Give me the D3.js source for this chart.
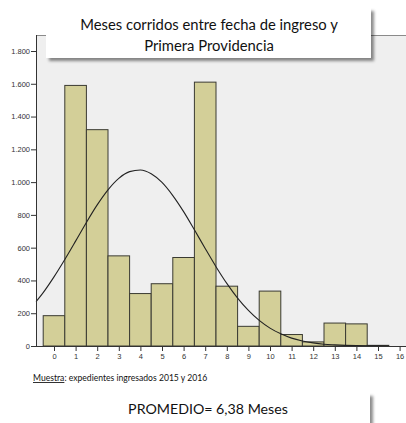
<!DOCTYPE html>
<html><head><meta charset="utf-8">
<script src="https://cdn.jsdelivr.net/npm/d3@7"></script>
<style>
body{margin:0;background:#fff;}
svg{display:block;}
</style></head>
<body>
<svg id="c" width="406" height="423"></svg>
<script>
const categories = [0,1,2,3,4,5,6,7,8,9,10,11,12,13,14,15];
const counts = [185,1590,1320,550,320,380,540,1610,365,120,335,70,25,140,135,4];
const xTicks = [0,1,2,3,4,5,6,7,8,9,10,11,12,13,14,15,16];
const yTicks = [0,200,400,600,800,1000,1200,1400,1600,1800];
const curveX = [-0.83,-0.5,0,0.5,1,1.5,2,2.5,3,3.5,4,4.5,5,5.5,6,6.5,7,7.5,8,8.5,9,9.5,10,10.5,11,11.5,12,12.5,13,13.5,14,14.5,15,15.5];
const curveY = [271,326,422,528,640,754,861,953,1023,1064,1074,1051,998,918,820,709,595,484,382,292,217,156,109,74,48,31,19,11,7,4,2,1,0.5,0.2];
const titleLines = ["Meses corridos entre fecha de ingreso y","Primera Providencia"];
const noteLabel = "Muestra";
const noteText = ": expedientes ingresados 2015 y 2016";
const avgText = "PROMEDIO= 6,38 Meses";

const svg = d3.select("#c");
const x = d3.scaleLinear().domain([0,16]).range([54,399.6]);
const y = d3.scaleLinear().domain([0,1800]).range([346,51]);
const plotL = 36, plotT = 35, plotR = 406, plotB = 346;
const fmt = v => d3.format(",")(v).replace(/,/g,".");

const defs = svg.append("defs");
const f = defs.append("filter").attr("id","sh").attr("x","-5%").attr("y","-20%").attr("width","115%").attr("height","160%");
f.append("feDropShadow").attr("dx",3).attr("dy",3).attr("stdDeviation",1.6).attr("flood-color","#000").attr("flood-opacity",0.45);

// plot background
svg.append("rect").attr("x",plotL).attr("y",plotT).attr("width",plotR-plotL).attr("height",plotB-plotT).attr("fill","#efefef");
svg.append("line").attr("x1",plotL).attr("x2",plotR).attr("y1",plotT+0.5).attr("y2",plotT+0.5).attr("stroke","#8a8a8a").attr("stroke-width",1);

// bars
const bw = x(1)-x(0);
svg.append("g").selectAll("rect").data(categories).join("rect")
  .attr("x",(d)=>x(d-0.5))
  .attr("y",(d,i)=>y(counts[i]))
  .attr("width",bw)
  .attr("height",(d,i)=>y(0)-y(counts[i]))
  .attr("fill","#d3cf98")
  .attr("stroke","#3a3a32")
  .attr("stroke-width",1);

// curve
const line = d3.line().x((d,i)=>x(curveX[i])).y(d=>y(d)).curve(d3.curveMonotoneX);
svg.append("path").datum(curveY).attr("d",line).attr("fill","none").attr("stroke","#222").attr("stroke-width",1.1);

// axes
const yAxis = d3.axisLeft(y).tickValues(yTicks).tickFormat(fmt).tickSize(5).tickPadding(1);
const gy = svg.append("g").attr("transform",`translate(${plotL},0)`).call(yAxis);
gy.select(".domain").attr("d",`M0.5,${plotT}V${plotB}`).attr("stroke","#333");
gy.selectAll(".tick line").attr("stroke","#333");
gy.selectAll("text").attr("font-family","Liberation Sans, Arial, sans-serif").attr("font-size",7.5).attr("fill","#333");

const xAxis = d3.axisBottom(x).tickValues(xTicks).tickSize(5).tickPadding(3);
const gx = svg.append("g").attr("transform",`translate(0,${plotB})`).call(xAxis);
gx.select(".domain").attr("d",`M${plotL},0.5H${plotR}`).attr("stroke","#333");
gx.selectAll(".tick line").attr("stroke","#333");
gx.selectAll("text").attr("font-family","Liberation Sans, Arial, sans-serif").attr("font-size",7.5).attr("fill","#333");

// title box
svg.append("rect").attr("x",46).attr("y",8).attr("width",325).attr("height",50).attr("fill","#fff").attr("filter","url(#sh)");
svg.append("text").attr("x",209).attr("y",30).attr("text-anchor","middle")
  .attr("font-family","Lato, 'Open Sans', sans-serif").attr("font-size",14.8).attr("fill","#111").text(titleLines[0]);
svg.append("text").attr("x",209).attr("y",51).attr("text-anchor","middle")
  .attr("font-family","Lato, 'Open Sans', sans-serif").attr("font-size",14.8).attr("fill","#111").text(titleLines[1]);

// note
const note = svg.append("text").attr("x",33).attr("y",381).attr("font-family","Lato, 'Open Sans', sans-serif").attr("font-size",8.6).attr("fill","#111");
note.append("tspan").attr("text-decoration","underline").text(noteLabel);
note.append("tspan").text(noteText);

// avg box
svg.append("rect").attr("x",45).attr("y",393).attr("width",325).attr("height",40).attr("fill","#fff").attr("filter","url(#sh)");
svg.append("text").attr("x",208).attr("y",414).attr("text-anchor","middle")
  .attr("font-family","Lato, 'Open Sans', sans-serif").attr("font-size",14.2).attr("fill","#111").text(avgText);
</script>
</body></html>
